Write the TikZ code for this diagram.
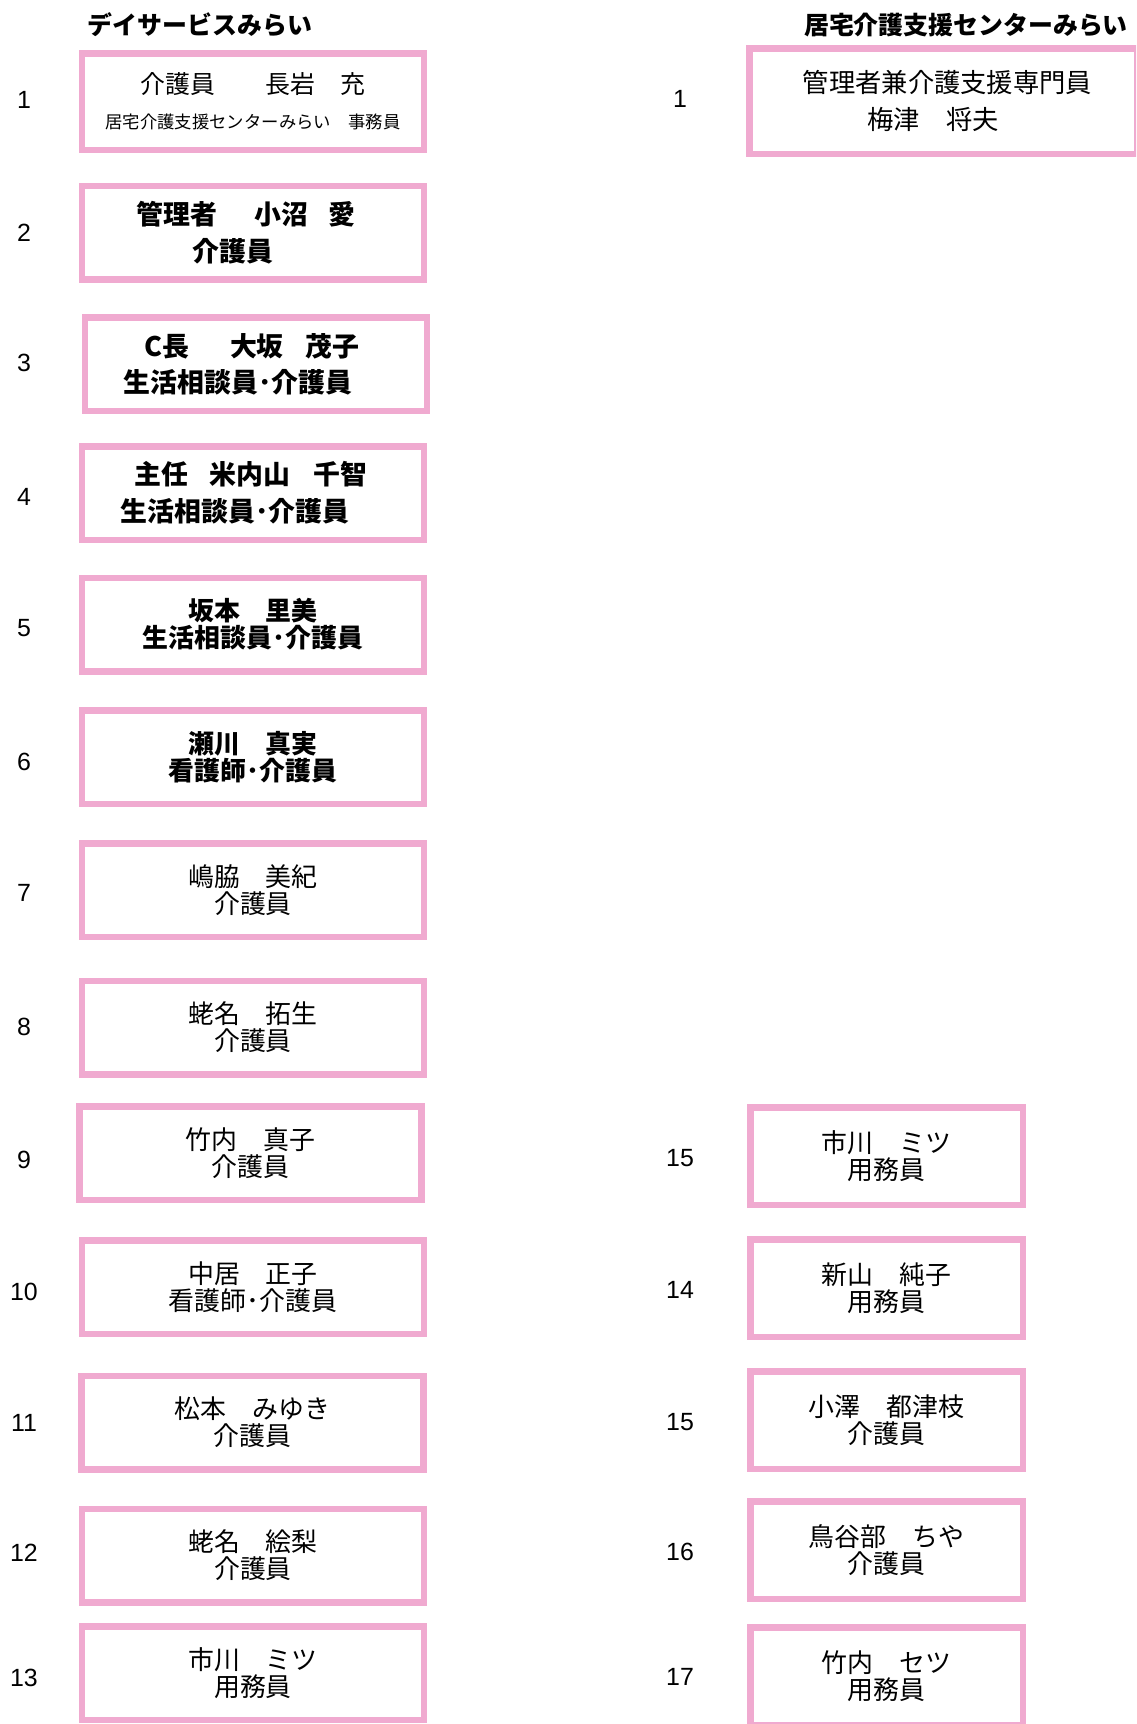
\documentclass[tikz,border=0pt]{standalone}
\usepackage{fontspec}
\newfontfamily\jp{Noto Sans CJK JP}
\newfontfamily\num{Liberation Sans}
\definecolor{boxpink}{RGB}{240,170,208}

\begin{document}
\begin{tikzpicture}[x=1bp,y=-1bp,
  staff/.style={draw=boxpink,line width=6.5bp,align=center,inner sep=0pt,
    minimum width=341.5bp,minimum height=93.5bp,font=\jp\fontsize{26}{27}\selectfont},
  boldstaff/.style={staff,font=\jp\bfseries\fontsize{27}{37}\selectfont},
  helper/.style={staff,minimum width=272.5bp,minimum height=97.5bp},
  head/.style={font=\jp\bfseries\fontsize{25}{25}\selectfont},
  rownum/.style={font=\num\fontsize{25}{25}\selectfont}]
  \useasboundingbox (0,0) rectangle (1136,1724);
  \fill[white] (0,0) rectangle (1136,1724);
  \clip (0,0) rectangle (1136,1724);
  \node[head] (dayhead) at (200,25) {デイサービスみらい};
  \node[head] (carehead) at (966,25) {居宅介護支援センターみらい};
  \foreach \n/\y in {1/100,2/233,3/363,4/497,5/628,6/762,7/893,8/1027,9/1160,10/1292,11/1423,12/1553,13/1678}
    \node[rownum] (dn\n) at (24,\y) {\n};
  \foreach \i/\n/\y in {1/1/99,2/15/1158,3/14/1290,4/15/1422,5/16/1552,6/17/1677}
    \node[rownum] (kn\i) at (680,\y) {\n};
  \node[staff,minimum height=96.5bp,font=\jp\fontsize{25}{35}\selectfont] (d1) at (253,101.5)
    {介護員　　長岩　充\\{\fontsize{17.4}{35}\selectfont 居宅介護支援センターみらい　事務員}};
  \node[boldstaff] (d2) at (253,232.5)
    {\hspace*{-14bp}管理者\hspace{1.4em}小沼\hspace{0.75em}愛\\\hspace*{-40bp}介護員};
  \node[boldstaff,font=\jp\bfseries\fontsize{27}{36}\selectfont] (d3) at (256,364)
    {\hspace*{-8bp}C長\hspace{1.5em}大坂\hspace{0.8em}茂子\\\hspace*{-36bp}生活相談員･介護員};
  \node[boldstaff] (d4) at (253,493)
    {\hspace*{-4bp}主任\hspace{0.8em}米内山\hspace{0.85em}千智\\\hspace*{-36bp}生活相談員･介護員};
  \node[staff,font=\jp\bfseries\fontsize{26}{27}\selectfont] (d5) at (253,624.5) {坂本　里美\\生活相談員･介護員};
  \node[staff,font=\jp\bfseries\fontsize{26}{27}\selectfont] (d6) at (253,757) {瀬川　真実\\看護師･介護員};
  \node[staff] (d7) at (253,890) {嶋脇　美紀\\介護員};
  \node[staff] (d8) at (253,1027.5) {蛯名　拓生\\介護員};
  \node[staff] (d9) at (250.5,1153) {竹内　真子\\介護員};
  \node[staff] (d10) at (253,1287) {中居　正子\\看護師･介護員};
  \node[staff] (d11) at (252.5,1422.5) {松本　みゆき\\介護員};
  \node[staff] (d12) at (253,1555.5) {蛯名　絵梨\\介護員};
  \node[staff] (d13) at (253,1673) {市川　ミツ\\用務員};
  \node[staff,minimum width=387.5bp,minimum height=105.5bp,font=\jp\fontsize{26.4}{37}\selectfont] (k1) at (943,101)
    {\hspace*{9bp}管理者兼介護支援専門員\\\hspace*{-20bp}梅津　将夫};
  \node[helper] (k2) at (886.5,1156) {市川　ミツ\\用務員};
  \node[helper] (k3) at (886.5,1288) {新山　純子\\用務員};
  \node[helper] (k4) at (886.5,1420) {小澤　都津枝\\介護員};
  \node[helper] (k5) at (886.5,1550) {鳥谷部　ちや\\介護員};
  \node[helper] (k6) at (886.5,1676) {竹内　セツ\\用務員};
\end{tikzpicture}
\end{document}
